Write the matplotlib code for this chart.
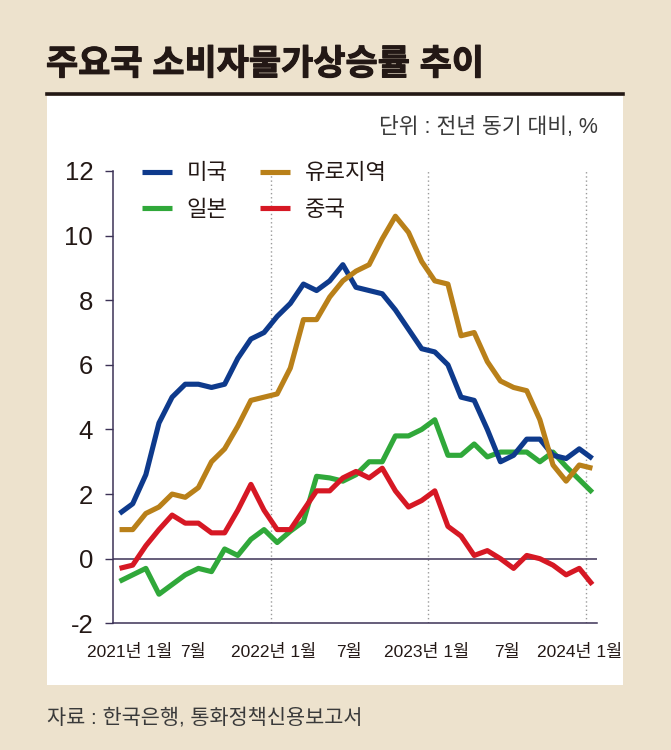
import numpy as np
import matplotlib
matplotlib.use('Agg')
from matplotlib import pyplot as plt
from matplotlib import font_manager
from matplotlib import patheffects
from matplotlib.patches import Rectangle
from matplotlib.lines import Line2D

# 2021년 1월 ~ 2024년 1월, 전년 동월 대비 %
us = [1.4, 1.7, 2.6, 4.2, 5.0, 5.4, 5.4, 5.3, 5.4, 6.2, 6.8, 7.0,
      7.5, 7.9, 8.5, 8.3, 8.6, 9.1, 8.4, 8.3, 8.2, 7.7, 7.1, 6.5,
      6.4, 6.0, 5.0, 4.9, 4.0, 3.0, 3.2, 3.7, 3.7, 3.2, 3.1, 3.4,
      3.1]
euro = [0.9, 0.9, 1.4, 1.6, 2.0, 1.9, 2.2, 3.0, 3.4, 4.1, 4.9, 5.0,
        5.1, 5.9, 7.4, 7.4, 8.1, 8.6, 8.9, 9.1, 9.9, 10.6, 10.1, 9.2,
        8.6, 8.5, 6.9, 7.0, 6.1, 5.5, 5.3, 5.2, 4.3, 2.9, 2.4, 2.9,
        2.8]
japan = [-0.7, -0.5, -0.3, -1.1, -0.8, -0.5, -0.3, -0.4, 0.3, 0.1, 0.6, 0.9,
         0.5, 0.85, 1.15, 2.55, 2.5, 2.4, 2.6, 3.0, 3.0, 3.8, 3.8, 4.0,
         4.3, 3.2, 3.2, 3.55, 3.15, 3.3, 3.3, 3.3, 3.0, 3.3, 2.85, 2.45,
         2.05]
china = [-0.3, -0.2, 0.4, 0.9, 1.35, 1.1, 1.1, 0.8, 0.8, 1.5, 2.3, 1.5,
         0.9, 0.9, 1.5, 2.1, 2.1, 2.5, 2.7, 2.5, 2.8, 2.1, 1.6, 1.8,
         2.1, 1.0, 0.7, 0.1, 0.25, 0.0, -0.3, 0.1, 0.0, -0.2, -0.5, -0.3,
         -0.8]
tick_labels = ['2021년 1월', '7월', '2022년 1월', '7월', '2023년 1월', '7월', '2024년 1월']
year_starts = [12, 24, 36]

names = {f.name for f in font_manager.fontManager.ttflist}
narrow = 'Liberation Sans Narrow' if 'Liberation Sans Narrow' in names else 'Liberation Sans'
plt.rcParams['font.family'] = [narrow, 'Noto Sans CJK KR', 'DejaVu Sans']
plt.rcParams['axes.unicode_minus'] = False

bg = '#ede2cd'
ink = '#231815'
axis_col = '#3c3256'
colors = {'미국': '#0e3a8c', '유로지역': '#b98019', '일본': '#30a83a', '중국': '#d61824'}

fig = plt.figure(figsize=(6.71, 7.5), dpi=100, facecolor=bg)

# white panel + heavy rule under the title
fig.add_artist(Rectangle((47 / 671, 1 - 685 / 750), 576 / 671, (685 - 96) / 750,
                         transform=fig.transFigure, facecolor='white', edgecolor='none', zorder=0))
fig.add_artist(Line2D([47 / 671, 623 / 671], [1 - 94 / 750, 1 - 94 / 750],
                      transform=fig.transFigure, color=ink, linewidth=2.6))

fig.text(46 / 671, 1 - 65 / 750, '주요국 소비자물가상승률 추이', fontsize=25.2,
         fontweight='bold', color=ink, va='center', ha='left',
         path_effects=[patheffects.withStroke(linewidth=0.8, foreground=ink)])
fig.text(598 / 671, 1 - 128 / 750, '단위 : 전년 동기 대비, %', fontsize=15.5,
         color='#3a3a3a', va='center', ha='right')
fig.text(47 / 671, 1 - 718 / 750, '자료 : 한국은행, 통화정책신용보고서', fontsize=15,
         color='#3a3a3a', va='center', ha='left')

ax = fig.add_axes([113 / 671, 1 - 623.3 / 750, 484 / 671, (623.3 - 171) / 750])
ax.patch.set_visible(False)

months = np.arange(len(us)) + 0.5
lines = {}
for name, vals, z in [('일본', japan, 3), ('미국', us, 4), ('유로지역', euro, 5), ('중국', china, 6)]:
    lines[name], = ax.plot(months, vals, color=colors[name], linewidth=3.7,
                           solid_capstyle='butt', solid_joinstyle='round', zorder=z)

ax.vlines(year_starts, -2, 12, colors='#9a9a9a', linestyles=(0, (1, 2)), linewidth=1.0, zorder=1)
ax.axhline(0, color=axis_col, linewidth=1.1, zorder=2)

ax.set_xlim(0, 36.85)
ax.set_ylim(-2, 12)
for s in ['top', 'right']:
    ax.spines[s].set_visible(False)
for s in ['left', 'bottom']:
    ax.spines[s].set_color(axis_col)
    ax.spines[s].set_linewidth(1.1)

ax.set_yticks(range(-2, 13, 2))
ax.tick_params(axis='y', direction='out', length=5.8, width=1, color=axis_col,
               pad=8.5, labelsize=18.5, labelcolor=ink)
ax.set_xticks([1.3, 6.1, 12.2, 18.0, 23.9, 30.0, 35.5])
ax.set_xticklabels(tick_labels)
ax.tick_params(axis='x', length=0, pad=15, labelsize=12.5, labelcolor=ink)

ax.legend(handles=[lines['미국'], lines['일본'], lines['유로지역'], lines['중국']],
          labels=['미국', '일본', '유로지역', '중국'], ncol=2, loc='upper left',
          bbox_to_anchor=(0.059, 1.017), frameon=False, fontsize=16,
          handlelength=1.35, handletextpad=0.68, columnspacing=1.46,
          labelspacing=0.69, borderpad=0, borderaxespad=0, labelcolor=ink)

fig.savefig('out.png', dpi=100, facecolor=bg)
